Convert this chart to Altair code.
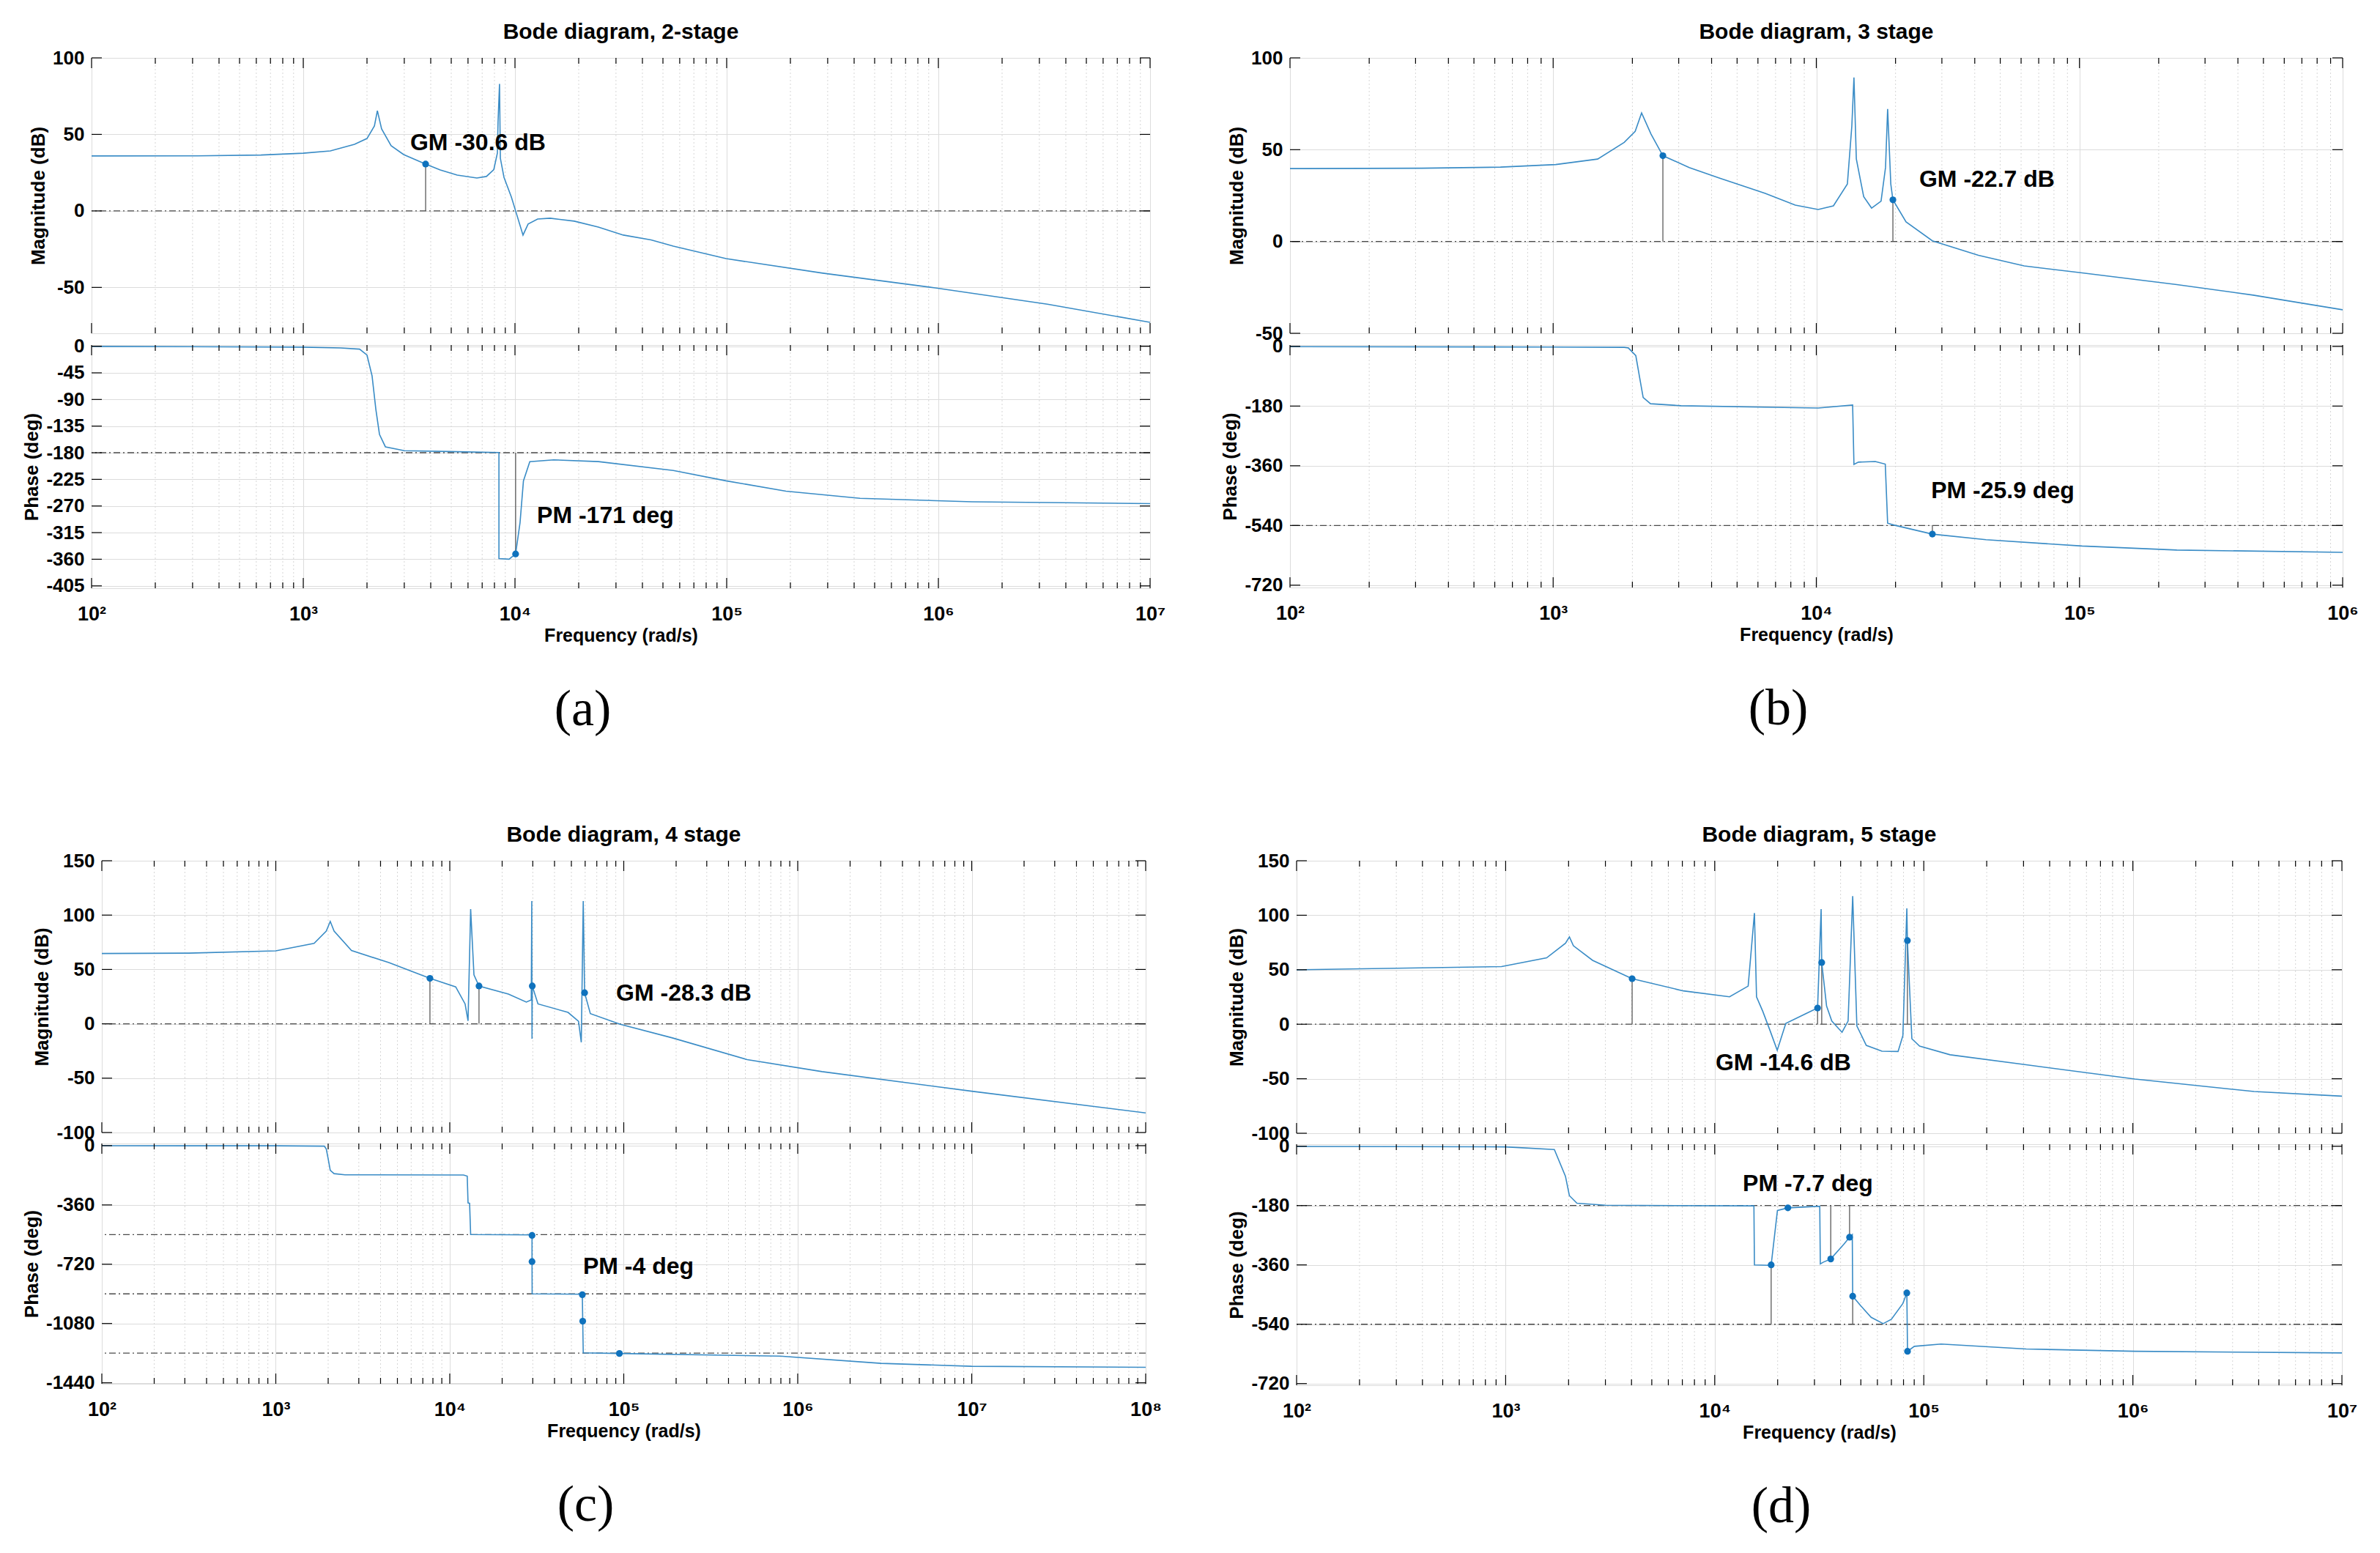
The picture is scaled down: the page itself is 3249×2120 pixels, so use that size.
import altair as alt
import pandas as pd

# ---------------- shared values ----------------
MINOR_MULT = [2, 3, 4, 5, 6, 7, 8, 9]
SUPERSCRIPTS = "⁰¹²³⁴⁵⁶⁷⁸⁹"

# ---------------- (a) 2-stage ----------------
A_TITLE = "Bode diagram, 2-stage"
A_CAPTION = "(a)"
A_DECADES = [2, 7]
A_MAG_DOMAIN = [-80, 100]
A_MAG_TICKS = [-50, 0, 50, 100]
A_PH_DOMAIN = [-409, 2]
A_PH_TICKS = [0, -45, -90, -135, -180, -225, -270, -315, -360, -405]
A_MAG_F = [100, 316, 631, 1000, 1343, 1746, 2000, 2168, 2239, 2344, 2600, 2979, 3784, 4436, 5333,
           6607, 7328, 7943, 8260, 8318, 8453, 8531, 8872, 9616, 10070, 10914, 11535, 12794, 14655,
           19055, 24774, 32509, 43950, 55976, 99300, 284446, 966051, 3273407, 1e7]
A_MAG_DB = [35.9, 36.0, 36.5, 37.7, 39.2, 43.5, 47.3, 55.5, 65.5, 53.6, 42.6, 36.8, 30.6, 26.8, 23.4,
            21.5, 22.5, 27.0, 37.8, 58.0, 83.0, 34.4, 22.0, 9.0, 0.0, -15.8, -8.6, -5.3, -4.8,
            -6.7, -10.6, -15.8, -19.0, -23.0, -31.2, -40.7, -50.3, -61.0, -72.8]
A_PH_F = [100, 1000, 1500, 1845, 2000, 2113, 2203, 2291, 2443, 3006, 4898, 8400, 8400, 9376, 10070,
          10568, 10965, 11749, 15241, 24774, 55976, 99300, 190546, 426580, 1445440, 1e7]
A_PH_DEG = [-0.3, -1.5, -3, -5, -15, -50, -107, -149, -170, -176.5, -178, -179.6, -359, -360, -351,
            -298, -227.5, -195, -192, -195, -210, -227.5, -245, -257, -263, -266]
A_MAG_REF = [0]
A_PH_REF = [-180]
A_MAG_DOT_F, A_MAG_DOT_V = [3784], [30.6]
A_MAG_STEM_F, A_MAG_STEM_LO, A_MAG_STEM_HI = [3784], [0], [30.6]
A_PH_DOT_F, A_PH_DOT_V = [10070], [-351]
A_PH_STEM_F, A_PH_STEM_LO, A_PH_STEM_HI = [10070], [-180], [-351]
A_MAG_NOTE, A_MAG_NOTE_F, A_MAG_NOTE_V = ["GM -30.6 dB"], [3199], [44.5]
A_PH_NOTE, A_PH_NOTE_F, A_PH_NOTE_V = ["PM -171 deg"], [12706], [-286]

# ---------------- (b) 3 stage ----------------
B_TITLE = "Bode diagram, 3 stage"
B_CAPTION = "(b)"
B_DECADES = [2, 6]
B_MAG_DOMAIN = [-50, 100]
B_MAG_TICKS = [-50, 0, 50, 100]
B_PH_DOMAIN = [-727, 4]
B_PH_TICKS = [0, -180, -360, -540, -720]
B_MAG_F = [100, 316, 631, 1023, 1476, 1862, 2050, 2168, 2355, 2612, 3289, 4276, 6397, 8318, 10162,
           11614, 13122, 13646, 13900, 14191, 15136, 16218, 17620, 18323, 18664, 19187, 19543, 21928,
           27606, 41305, 61660, 102329, 234423, 457088, 1e6]
B_MAG_DB = [39.7, 39.9, 40.5, 41.9, 44.9, 54.0, 60.0, 70.0, 58.5, 46.7, 40.3, 34.6, 26.2, 19.8, 17.4,
            19.4, 31.3, 63.0, 89.3, 45.0, 24.4, 18.2, 22.0, 40.3, 72.2, 31.3, 22.7, 10.7,
            0.4, -7.5, -13.3, -17.1, -23.5, -29.2, -37.2]
B_PH_F = [100, 1000, 1862, 1932, 2061, 2128, 2198, 2344, 3062, 10162, 13740, 13900, 14454, 16749,
          18281, 18664, 19770, 27606, 44157, 102329, 234423, 1e6]
B_PH_DEG = [-1, -2, -3, -5, -28, -91, -154, -173, -179, -186, -177, -356, -349, -347,
            -355, -533, -539, -566, -583, -602, -614, -621]
B_MAG_REF = [0]
B_PH_REF = [-540]
B_MAG_DOT_F, B_MAG_DOT_V = [2612, 19543], [46.7, 22.7]
B_MAG_STEM_F, B_MAG_STEM_LO, B_MAG_STEM_HI = [2612, 19543], [0, 0], [46.7, 22.7]
B_PH_DOT_F, B_PH_DOT_V = [27606], [-566]
B_PH_STEM_F, B_PH_STEM_LO, B_PH_STEM_HI = [27606], [-540], [-566]
B_MAG_NOTE, B_MAG_NOTE_F, B_MAG_NOTE_V = ["GM -22.7 dB"], [24604], [33.8]
B_PH_NOTE, B_PH_NOTE_F, B_PH_NOTE_V = ["PM -25.9 deg"], [27290], [-435]

# ---------------- (c) 4 stage ----------------
C_TITLE = "Bode diagram, 4 stage"
C_CAPTION = "(c)"
C_DECADES = [2, 8]
C_MAG_DOMAIN = [-100, 150]
C_MAG_TICKS = [-100, -50, 0, 50, 100, 150]
C_PH_DOMAIN = [-1446, 13]
C_PH_TICKS = [0, -360, -720, -1080, -1440]
C_MAG_F = [100, 316, 1000, 1660, 1950, 2056, 2163, 2723, 4467, 7691, 10814, 12246, 12735, 13183,
           13772, 14723, 21727, 27542, 29400, 29600, 29700, 29800, 32137, 47863, 54954, 57000,
           58500, 59566, 64269, 95499, 190546, 512861, 1380384, 1e7, 1e8]
C_MAG_DB = [64.7, 65.0, 67.1, 74.0, 85.3, 94.2, 85.3, 67.4, 56.3, 41.8, 34.0, 18.3, 2.7, 105.5,
            45.0, 34.8, 27.3, 20.0, 22.0, 113.0, -13.7, 34.8, 18.3, 10.5, 2.4, -17.0,
            113.0, 28.6, 9.4, -0.4, -13.0, -33.0, -44.0, -62.0, -82.0]
C_PH_F = [100, 1000, 1900, 1950, 2000, 2056, 2163, 2500, 12000, 12600, 12735, 13000, 13183, 29600,
          29700, 29700, 29750, 57500, 57800, 58100, 58500, 94406, 794328, 3019952, 1e7, 1e8]
C_PH_DEG = [-0.5, -1, -3, -20, -80, -150, -170, -177, -178, -185, -348, -350, -540, -542,
            -545, -704, -900, -902, -905, -1066, -1258, -1262, -1278, -1322, -1340, -1346]
C_MAG_REF = [0]
C_PH_REF = [-540, -900, -1260]
C_MAG_DOT_F, C_MAG_DOT_V = [7691, 14723, 29800, 59566], [41.8, 34.8, 34.8, 28.6]
C_MAG_STEM_F, C_MAG_STEM_LO, C_MAG_STEM_HI = [7691, 14723], [0, 0], [41.8, 34.8]
C_PH_DOT_F, C_PH_DOT_V = [29700, 29700, 57800, 58100, 94406], [-545, -704, -905, -1066, -1262]
C_PH_STEM_F, C_PH_STEM_LO, C_PH_STEM_HI = [], [], []
C_MAG_NOTE, C_MAG_NOTE_F, C_MAG_NOTE_V = ["GM -28.3 dB"], [90365], [28]
C_PH_NOTE, C_PH_NOTE_F, C_PH_NOTE_V = ["PM -4 deg"], [58345], [-736]

# ---------------- (d) 5 stage ----------------
D_TITLE = "Bode diagram, 5 stage"
D_CAPTION = "(d)"
D_DECADES = [2, 7]
D_MAG_DOMAIN = [-100, 150]
D_MAG_TICKS = [-100, -50, 0, 50, 100, 150]
D_PH_DOMAIN = [-725, 6]
D_PH_TICKS = [0, -180, -360, -540, -720]
D_MAG_F = [100, 955, 1570, 1932, 2018, 2109, 2606, 4027, 7079, 11776, 14454, 15488, 15849, 16982,
           18408, 19907, 21878, 27164, 31046, 32285, 32500, 34277, 36308, 40644, 43451, 45709, 47863,
           53088, 63096, 75336, 79433, 82985, 83500, 87700, 95499, 133660, 309030, 1023293,
           3801894, 1e7]
D_MAG_DB = [49.9, 52.9, 60.9, 74.3, 80.1, 72.0, 58.6, 41.8, 30.6, 25.2, 35.0, 102.0, 25.2, 11.8,
            -6.0, -23.9, 0.8, 9.6, 14.9, 105.6, 56.6, 16.7, 2.9, -7.4, 2.9, 117.6, -1.6,
            -19.4, -24.7, -25.0, -10.5, 106.3, 76.8, -13.3, -20.0, -28.0, -37.2, -50.3,
            -61.7, -66.0]
D_PH_F = [100, 1000, 1710, 1932, 2018, 2193, 3000, 15400, 15488, 18000, 18621, 19953, 22387, 31800,
          32000, 33000, 35892, 41400, 44157, 45500, 45709, 50119, 56000, 63973, 70000, 79433, 82985,
          83600, 90157, 121060, 309030, 1023293, 1e7]
D_PH_DEG = [-0.5, -2, -10, -91, -150, -173, -179, -181, -360, -361, -360, -195, -187, -182,
            -357, -352, -342, -298, -276, -268, -455, -485, -519, -538, -525, -477, -445,
            -622, -607, -600, -615, -622, -627]
D_MAG_REF = [0]
D_PH_REF = [-180, -540]
D_MAG_DOT_F, D_MAG_DOT_V = [4027, 31046, 32500, 83500], [41.8, 14.9, 56.6, 76.8]
D_MAG_STEM_F, D_MAG_STEM_LO, D_MAG_STEM_HI = [4027, 31046, 32500, 83500], [0, 0, 0, 0], [41.8, 14.9, 56.6, 76.8]
D_PH_DOT_F = [18621, 22387, 35892, 44157, 45709, 82985, 83600]
D_PH_DOT_V = [-360, -187, -342, -276, -455, -445, -622]
D_PH_STEM_F, D_PH_STEM_LO, D_PH_STEM_HI = [18621, 35892, 44157, 45709], [-540, -180, -180, -540], [-360, -342, -276, -455]
D_MAG_NOTE, D_MAG_NOTE_F, D_MAG_NOTE_V = ["GM -14.6 dB"], [10090], [-35.5]
D_PH_NOTE, D_PH_NOTE_F, D_PH_NOTE_V = ["PM -7.7 deg"], [13614], [-113]

# ---------------- styling ----------------
FONT = "'Liberation Sans', Arial, Helvetica, sans-serif"
SERIF = "'Liberation Serif', 'Times New Roman', serif"
LINE_C = "#3a8cc6"
DOT_C = "#0f72bd"
GRID_C = "#dcdcdc"
GRID_MINOR_C = "#d6d6d6"
REF_C = "#4a4a4a"
STEM_C = "#5a5a5a"
X_LABEL_EXPR = ("'10' + substring('" + SUPERSCRIPTS + "', round(log(datum.value)/LN10), "
                "round(log(datum.value)/LN10) + 1)")
Y_LABEL_EXPR = "'' + datum.value"


def build_plot(W, H, decades, domain, yticks, ytitle, cf, cv, refs, dot_f, dot_v,
               stem_f, stem_lo, stem_hi, note, note_f, note_v, is_phase, title_params):
    e_lo, e_hi = decades
    xs = alt.Scale(type="log", domain=[10.0 ** e_lo, 10.0 ** e_hi], nice=False)
    ys = alt.Scale(domain=domain, nice=False, zero=False)
    major = [10.0 ** e for e in range(e_lo, e_hi + 1)]
    minor = [m * 10.0 ** e for e in range(e_lo, e_hi) for m in MINOR_MULT]

    if is_phase:
        xaxis = alt.Axis(values=major, labelExpr=X_LABEL_EXPR, labelFont=FONT, labelFontSize=27,
                         labelFontWeight="bold", labelColor="black", labelPadding=22,
                         labelFlush=False, labelOverlap=False, ticks=False, tickSize=0,
                         domain=False, title="Frequency  (rad/s)", titleFont=FONT,
                         titleFontSize=25, titleFontWeight="bold", titleColor="black",
                         titlePadding=4, grid=True, gridColor=GRID_C, gridWidth=1)
    else:
        xaxis = alt.Axis(values=major, labels=False, ticks=False, tickSize=0, domain=False,
                         title=None, grid=True, gridColor=GRID_C, gridWidth=1)
    yaxis = alt.Axis(values=yticks, labelExpr=Y_LABEL_EXPR, labelFont=FONT, labelFontSize=26,
                     labelFontWeight="bold", labelColor="black", labelPadding=10,
                     labelFlush=False, labelOverlap=False, ticks=False, tickSize=0, domain=False,
                     title=ytitle, titleFont=FONT, titleFontSize=26, titleFontWeight="bold",
                     titleColor="black", titlePadding=6, grid=True, gridColor=GRID_C, gridWidth=1)
    # every layer carries the same full axis definition so the merged axis is identical
    xn = alt.X("f:Q", scale=xs, axis=xaxis)
    yn = alt.Y("v:Q", scale=ys, axis=yaxis)

    layers = []
    cdf = pd.DataFrame({"f": cf, "v": cv, "i": list(range(len(cf)))})
    layers.append(alt.Chart(pd.DataFrame({"f": minor})).mark_rule(
        color=GRID_MINOR_C, strokeDash=[2, 3], strokeWidth=1).encode(x=xn))
    layers.append(alt.Chart(pd.DataFrame({"v": refs})).mark_rule(
        color=REF_C, strokeDash=[9, 4, 2, 4], strokeWidth=1.3).encode(y=yn))
    if stem_f:
        sdf = pd.DataFrame({"f": stem_f, "v": stem_lo, "v2": stem_hi})
        layers.append(alt.Chart(sdf).mark_rule(color=STEM_C, strokeWidth=1.3).encode(
            x=xn, y=yn, y2="v2:Q"))
    layers.append(alt.Chart(cdf).mark_line(color=LINE_C, strokeWidth=1.6, clip=True).encode(
        x=xn, y=yn, order=alt.Order("i:Q")))
    ddf = pd.DataFrame({"f": dot_f, "v": dot_v})
    layers.append(alt.Chart(ddf).mark_circle(color=DOT_C, size=85, opacity=1).encode(x=xn, y=yn))
    ndf = pd.DataFrame({"f": note_f, "v": note_v, "t": note})
    layers.append(alt.Chart(ndf).mark_text(align="left", baseline="middle", font=FONT,
                                           fontSize=32, fontWeight="bold", color="black").encode(
        x=xn, y=yn, text="t:N"))
    # inner tick marks (MATLAB style)
    for fl, ln in ((major, 14), (minor, 8)):
        d = pd.DataFrame({"f": fl})
        layers.append(alt.Chart(d).mark_rule(color="black", strokeWidth=1.2).encode(
            x=xn, y=alt.value(0), y2=alt.value(ln)))
        layers.append(alt.Chart(d).mark_rule(color="black", strokeWidth=1.2).encode(
            x=xn, y=alt.value(H), y2=alt.value(H - ln)))
    td = pd.DataFrame({"v": yticks})
    layers.append(alt.Chart(td).mark_rule(color="black", strokeWidth=1.2).encode(
        y=yn, x=alt.value(0), x2=alt.value(14)))
    layers.append(alt.Chart(td).mark_rule(color="black", strokeWidth=1.2).encode(
        y=yn, x=alt.value(W), x2=alt.value(W - 14)))
    return alt.layer(*layers).properties(width=W, height=H, title=title_params)


def build_panel(title, caption, decades, W, Hm, Hp, gap,
                mag_dom, mag_ticks, mf, mv, mag_ref, mdf, mdv, msf, msl, msh, mnote, mnf, mnv,
                ph_dom, ph_ticks, pf, pv, ph_ref, pdf, pdv, psf, psl, psh, pnote, pnf, pnv):
    t_top = alt.TitleParams(text=title, font=FONT, fontSize=30, fontWeight="bold", color="black",
                            anchor="middle", frame="group", offset=7)
    t_bot = alt.TitleParams(text=caption, orient="bottom", font=SERIF, fontSize=70,
                            fontWeight="normal", color="black", anchor="middle", frame="group",
                            dx=-52, offset=55)
    mag = build_plot(W, Hm, decades, mag_dom, mag_ticks, "Magnitude (dB)", mf, mv, mag_ref,
                     mdf, mdv, msf, msl, msh, mnote, mnf, mnv, False, t_top)
    ph = build_plot(W, Hp, decades, ph_dom, ph_ticks, "Phase (deg)", pf, pv, ph_ref,
                    pdf, pdv, psf, psl, psh, pnote, pnf, pnv, True, t_bot)
    return alt.vconcat(mag, ph, spacing=gap, bounds="flush")


def spacer():
    # an invisible 1px cell so that each row is placed by its full left bound
    return alt.Chart(pd.DataFrame({"s": [0]})).mark_point(opacity=0).encode(
        x=alt.value(0), y=alt.value(0)).properties(
        width=1, height=1, view=alt.ViewBackground(strokeOpacity=0))


pA = build_panel(A_TITLE, A_CAPTION, A_DECADES, 1445, 376, 332, 16,
                 A_MAG_DOMAIN, A_MAG_TICKS, A_MAG_F, A_MAG_DB, A_MAG_REF, A_MAG_DOT_F, A_MAG_DOT_V,
                 A_MAG_STEM_F, A_MAG_STEM_LO, A_MAG_STEM_HI, A_MAG_NOTE, A_MAG_NOTE_F, A_MAG_NOTE_V,
                 A_PH_DOMAIN, A_PH_TICKS, A_PH_F, A_PH_DEG, A_PH_REF, A_PH_DOT_F, A_PH_DOT_V,
                 A_PH_STEM_F, A_PH_STEM_LO, A_PH_STEM_HI, A_PH_NOTE, A_PH_NOTE_F, A_PH_NOTE_V)
pB = build_panel(B_TITLE, B_CAPTION, B_DECADES, 1437, 376, 331, 16,
                 B_MAG_DOMAIN, B_MAG_TICKS, B_MAG_F, B_MAG_DB, B_MAG_REF, B_MAG_DOT_F, B_MAG_DOT_V,
                 B_MAG_STEM_F, B_MAG_STEM_LO, B_MAG_STEM_HI, B_MAG_NOTE, B_MAG_NOTE_F, B_MAG_NOTE_V,
                 B_PH_DOMAIN, B_PH_TICKS, B_PH_F, B_PH_DEG, B_PH_REF, B_PH_DOT_F, B_PH_DOT_V,
                 B_PH_STEM_F, B_PH_STEM_LO, B_PH_STEM_HI, B_PH_NOTE, B_PH_NOTE_F, B_PH_NOTE_V)
pC = build_panel(C_TITLE, C_CAPTION, C_DECADES, 1425, 371, 328, 15,
                 C_MAG_DOMAIN, C_MAG_TICKS, C_MAG_F, C_MAG_DB, C_MAG_REF, C_MAG_DOT_F, C_MAG_DOT_V,
                 C_MAG_STEM_F, C_MAG_STEM_LO, C_MAG_STEM_HI, C_MAG_NOTE, C_MAG_NOTE_F, C_MAG_NOTE_V,
                 C_PH_DOMAIN, C_PH_TICKS, C_PH_F, C_PH_DEG, C_PH_REF, C_PH_DOT_F, C_PH_DOT_V,
                 C_PH_STEM_F, C_PH_STEM_LO, C_PH_STEM_HI, C_PH_NOTE, C_PH_NOTE_F, C_PH_NOTE_V)
pD = build_panel(D_TITLE, D_CAPTION, D_DECADES, 1427, 372, 329, 15,
                 D_MAG_DOMAIN, D_MAG_TICKS, D_MAG_F, D_MAG_DB, D_MAG_REF, D_MAG_DOT_F, D_MAG_DOT_V,
                 D_MAG_STEM_F, D_MAG_STEM_LO, D_MAG_STEM_HI, D_MAG_NOTE, D_MAG_NOTE_F, D_MAG_NOTE_V,
                 D_PH_DOMAIN, D_PH_TICKS, D_PH_F, D_PH_DEG, D_PH_REF, D_PH_DOT_F, D_PH_DOT_V,
                 D_PH_STEM_F, D_PH_STEM_LO, D_PH_STEM_HI, D_PH_NOTE, D_PH_NOTE_F, D_PH_NOTE_V)

row1 = alt.hconcat(spacer(), alt.hconcat(pA, pB, spacing=74), spacing=0)
row2 = alt.hconcat(spacer(), alt.hconcat(pC, pD, spacing=89), spacing=0)
chart = alt.vconcat(row1, row2, spacing=119).properties(
    padding={"left": 16, "top": 20, "right": 5, "bottom": 5},
    background="white",
).configure_view(stroke="black", strokeWidth=1.3).configure(font=FONT)

chart.save("out.html", embed_options={"renderer": "svg", "actions": False})
